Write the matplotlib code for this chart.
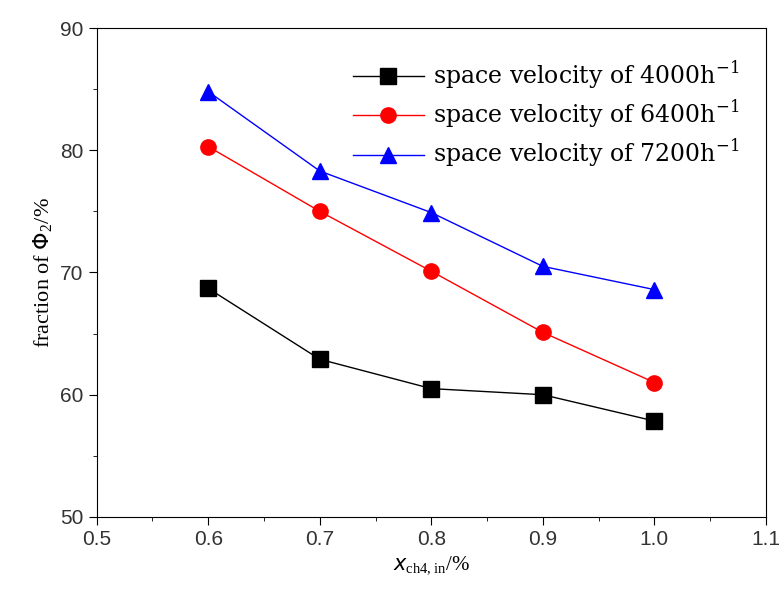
import matplotlib.pyplot as plt
import numpy as np

# Inlet CH4 fraction (%) and phi_2 fraction (%) at three space velocities
x_ch4 = [0.6, 0.7, 0.8, 0.9, 1.0]
sv_4000 = [68.7, 62.9, 60.5, 60.0, 57.85]
sv_6400 = [80.3, 75.0, 70.1, 65.1, 61.0]
sv_7200 = [84.8, 78.3, 74.9, 70.5, 68.6]

series = [
    (sv_4000, "black", "s", "space velocity of 4000h$^{\\mathregular{-1}}$"),
    (sv_6400, "red", "o", "space velocity of 6400h$^{\\mathregular{-1}}$"),
    (sv_7200, "blue", "^", "space velocity of 7200h$^{\\mathregular{-1}}$"),
]

fig = plt.figure(figsize=(7.8, 5.96), dpi=100)
ax = fig.add_axes([0.124, 0.1326, 0.858, 0.8204])

for values, color, marker, label in series:
    ax.plot(x_ch4, values, color=color, marker=marker, markersize=11,
            linewidth=1.0, label=label)

ax.set_xlim(0.5, 1.1)
ax.set_ylim(50, 90)
ax.set_xticks(np.arange(0.5, 1.11, 0.1))
ax.set_yticks(np.arange(50, 91, 10))
ax.set_xticks(np.arange(0.55, 1.1, 0.1), minor=True)
ax.set_yticks(np.arange(55, 90, 10), minor=True)
ax.tick_params(which="major", direction="out", length=6, labelsize=15,
               top=False, right=False)
ax.tick_params(which="minor", direction="out", length=3, top=False, right=False)
for lbl in ax.get_xticklabels() + ax.get_yticklabels():
    lbl.set_fontfamily("Liberation Sans")
    lbl.set_color("#333333")

ax.set_xlabel("$x_{\\mathregular{ch4,in}}$/%", fontsize=15, family="Liberation Serif")
ax.set_ylabel("fraction of $\\Phi_{\\mathregular{2}}$/%", fontsize=16,
              family="Liberation Serif")

ax.legend(loc="upper right", bbox_to_anchor=(0.975, 0.955), frameon=False,
          handlelength=3.0, handletextpad=0.4,
          prop={"family": "DejaVu Serif", "size": 17},
          borderaxespad=0.0, labelspacing=0.3)

fig.savefig("out.png", dpi=100)
